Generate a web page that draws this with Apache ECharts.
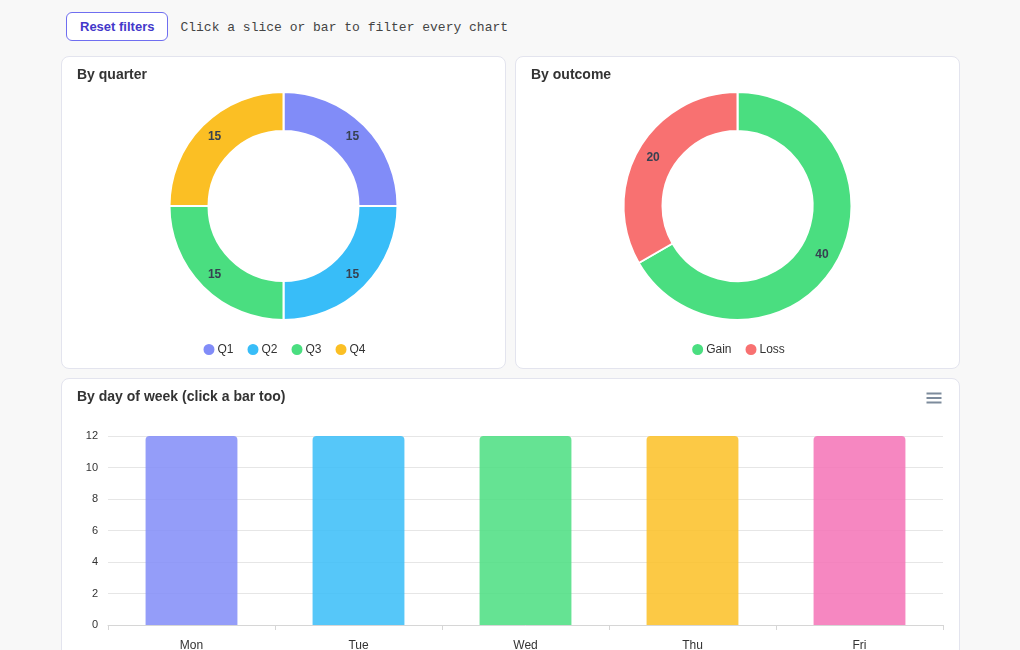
<!DOCTYPE html>
<html>
<head>
<meta charset="utf-8">
<script src="https://cdn.jsdelivr.net/npm/echarts@6/dist/echarts.min.js"></script>
<style>
  body { margin: 0; background: #f8f8f8; font-family: "Liberation Sans", Arial, sans-serif; }
  #bar-top { position: absolute; left: 66px; top: 12px; height: 29px; display: flex; align-items: center; }
  #reset { height: 29px; padding: 0 13px; border: 1px solid #6f6ef0; border-radius: 6px; background: #fff;
           color: #4338ca; font: bold 13px "Liberation Sans", Arial, sans-serif; }
  #hint { margin-left: 12px; margin-top: 2px; font: 13px "Liberation Mono", "DejaVu Sans Mono", monospace; color: #444; }
  .card { position: absolute; background: #fff; border: 1px solid #e3e4ee; border-radius: 8px; box-sizing: border-box; }
  #c1 { left: 61px; top: 56px; width: 445px; height: 313px; }
  #c2 { left: 515px; top: 56px; width: 445px; height: 313px; }
  #c3 { left: 61px; top: 378px; width: 899px; height: 300px; }
  .chart { width: 100%; height: 100%; }
</style>
</head>
<body>
<div id="bar-top"><button id="reset">Reset filters</button><span id="hint">Click a slice or bar to filter every chart</span></div>
<div class="card" id="c1"><div class="chart" id="quarter"></div></div>
<div class="card" id="c2"><div class="chart" id="outcome"></div></div>
<div class="card" id="c3"><div class="chart" id="weekday"></div></div>
<script>
// Datos
const quarters = ["Q1", "Q2", "Q3", "Q4"];
const quarterValues = [15, 15, 15, 15];
const quarterColors = ["#818cf8", "#38bdf8", "#4ade80", "#fbbf24"];

const outcomes = ["Gain", "Loss"];
const outcomeValues = [40, 20];
const outcomeColors = ["#4ade80", "#f87171"];

const days = ["Mon", "Tue", "Wed", "Thu", "Fri"];
const dayValues = [12, 12, 12, 12, 12];
const dayColors = ["#818cf8", "#38bdf8", "#4ade80", "#fbbf24", "#f472b6"];

const font = "Liberation Sans";

// Opciones comunes de los donuts
const donutOption = (title, names, values, colors) => ({
  title: {
    text: title, left: 10, top: 6,
    textStyle: { fontFamily: font, fontSize: 14, fontWeight: "bold", color: "#333" },
  },
  legend: {
    bottom: 6, icon: "circle", itemWidth: 13, itemHeight: 13, itemGap: 12,
    textStyle: { fontFamily: font, fontSize: 12, color: "#333", padding: [0, 0, 0, -3] },
  },
  series: [
    {
      type: "pie",
      center: ["50%", 149],
      radius: [75, 114],
      startAngle: 90,
      avoidLabelOverlap: false,
      itemStyle: { borderColor: "#fff", borderWidth: 2 },
      label: {
        position: "inside", formatter: "{c}",
        fontFamily: font, fontSize: 12, fontWeight: "bold", color: "#374151",
      },
      labelLine: { show: false },
      data: names.map((n, i) => ({ name: n, value: values[i], itemStyle: { color: colors[i] } })),
    },
  ],
});

const charts = [];
const q = echarts.init(document.getElementById("quarter"));
q.setOption(donutOption("By quarter", quarters, quarterValues, quarterColors));
charts.push(q);

const o = echarts.init(document.getElementById("outcome"));
o.setOption(donutOption("By outcome", outcomes, outcomeValues, outcomeColors));
charts.push(o);

// Barras por día
const w = echarts.init(document.getElementById("weekday"));
w.setOption({
  title: {
    text: "By day of week (click a bar too)", left: 10, top: 6,
    textStyle: { fontFamily: font, fontSize: 14, fontWeight: "bold", color: "#333" },
  },
  toolbox: {
    right: 0, top: -3, itemSize: 15,
    iconStyle: { borderColor: "#7d8b9c", borderWidth: 2 },
    feature: {
      myMenu: {
        show: true, title: "Menu",
        icon: "path://M0,2L20,2M0,8L20,8M0,14L20,14",
        onclick: () => {},
      },
    },
  },
  grid: { left: 46, right: 16, top: 57, bottom: 52 },
  xAxis: {
    type: "category",
    data: days,
    axisTick: { show: true, lineStyle: { color: "#d6d6d6" } },
    axisLine: { lineStyle: { color: "#d6d6d6" } },
    axisLabel: { fontFamily: font, fontSize: 12, color: "#333", margin: 15 },
  },
  yAxis: {
    type: "value",
    min: 0, max: 12, interval: 2,
    splitLine: { lineStyle: { color: "#e6e6e6" } },
    axisLabel: { fontFamily: font, fontSize: 11, color: "#333", margin: 10 },
  },
  series: [
    {
      type: "bar",
      barWidth: "55%",
      data: dayValues.map((v, i) => ({
        value: v,
        itemStyle: { color: dayColors[i], opacity: 0.85, borderRadius: [4, 4, 0, 0] },
      })),
    },
  ],
});
charts.push(w);
</script>
</body>
</html>
